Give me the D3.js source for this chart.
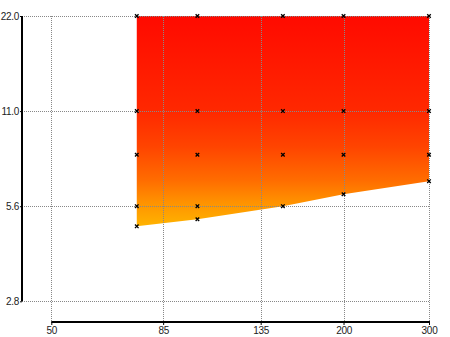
<!DOCTYPE html>
<html><head><meta charset="utf-8">
<script src="https://cdn.jsdelivr.net/npm/d3@7"></script>
<style>body{margin:0;background:#fff}svg{display:block}text{font-family:"Liberation Sans",Arial,sans-serif;fill:#222}</style>
</head><body><svg id="c" width="450" height="337"></svg>
<script>
const xValues = [75, 100, 150, 200, 300];
const levelValues = [22, 11, 8, 5.5];
const bottomValues = [4.75, 5, 5.5, 6, 6.6];
const xTickValues = [50, 85, 135, 200, 300];
const xTickLabels = ["50", "85", "135", "200", "300"];
const yTickValues = [2.75, 5.5, 11, 22];
const yTickLabels = ["2.8", "5.6", "11.0", "22.0"];

const svg = d3.select("#c");
const x = d3.scaleLog().domain([50, 300]).range([51.3, 429]);
const y = d3.scaleLog().domain([2.75, 22]).range([301.3, 16]);

const defs = svg.append("defs");
const g = defs.append("linearGradient").attr("id", "heat")
  .attr("gradientUnits", "userSpaceOnUse").attr("x1", 0).attr("x2", 0)
  .attr("y1", y(22)).attr("y2", y(4.75));
[[0, "#ff0a00"], [0.45, "#ff2800"], [0.62, "#ff4400"], [0.78, "#ff6c00"], [0.88, "#ff9000"], [1, "#ffb400"]]
  .forEach(([o, c]) => g.append("stop").attr("offset", o).attr("stop-color", c));

// fill area
const topPts = xValues.map(v => [x(v), y(levelValues[0])]);
const botPts = xValues.map((v, i) => [x(v), y(bottomValues[i])]).reverse();
svg.append("path")
  .attr("d", d3.line()(topPts.concat(botPts)) + "Z")
  .attr("fill", "url(#heat)");

// gridlines
const grid = svg.append("g").attr("stroke", "#888").attr("stroke-width", 1).attr("stroke-dasharray", "1,1");
yTickValues.forEach(v => grid.append("line")
  .attr("x1", 22).attr("x2", 429).attr("y1", Math.round(y(v)) + 0.5).attr("y2", Math.round(y(v)) + 0.5));
xTickValues.forEach(v => grid.append("line")
  .attr("x1", Math.round(x(v)) + 0.5).attr("x2", Math.round(x(v)) + 0.5).attr("y1", 16).attr("y2", 322));

// axes
const yAxis = d3.axisLeft(y).tickValues(yTickValues).tickSize(2).tickPadding(1)
  .tickFormat((d, i) => yTickLabels[i]);
const ya = svg.append("g").attr("transform", "translate(22,0)").call(yAxis);
ya.select(".domain").attr("d", `M0,${y(22)}V${y(2.75)}`).attr("stroke", "#000").attr("stroke-width", 2);
ya.selectAll("text").style("font-size", "10px").style("letter-spacing", "-0.3px").attr("fill", "#222");

const xAxis = d3.axisBottom(x).tickValues(xTickValues).tickSize(3).tickPadding(2)
  .tickFormat((d, i) => xTickLabels[i]);
const xa = svg.append("g").attr("transform", "translate(0,322)").call(xAxis);
xa.select(".domain").attr("d", `M${x(50)},0H${x(300) + 1}`).attr("stroke", "#000").attr("stroke-width", 2);
xa.selectAll("text").style("font-size", "10px").style("letter-spacing", "-0.3px").attr("fill", "#222");

// markers
const pts = [];
xValues.forEach((v, i) => {
  levelValues.forEach(l => { if (l > bottomValues[i]) pts.push([v, l]); });
  pts.push([v, bottomValues[i]]);
});
svg.append("g").selectAll("path").data(pts).join("path")
  .attr("transform", d => `translate(${x(d[0])},${y(d[1])})`)
  .attr("d", d3.symbol(d3.symbolX, 10)())
  .attr("stroke", "#000").attr("stroke-width", 1.3).attr("fill", "none");
</script></body></html>
